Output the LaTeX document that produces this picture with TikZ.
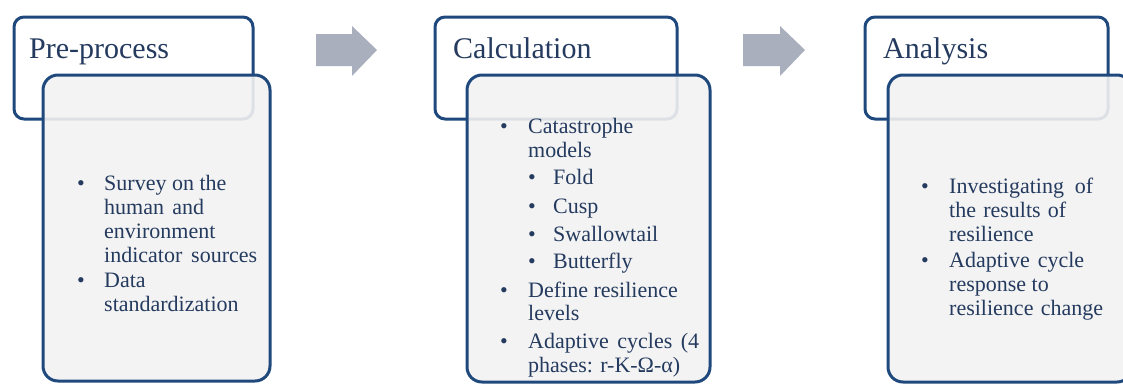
\documentclass[tikz,border=0pt]{standalone}
\usepackage{fontspec}
\setmainfont{Liberation Serif}
\definecolor{bordc}{RGB}{31,73,125}
\definecolor{txtc}{HTML}{243A5E}
\definecolor{arrc}{RGB}{169,175,189}
\definecolor{bodyfill}{HTML}{F2F2F2}
\tikzset{
  headbox/.style={draw=bordc, line width=3pt, rounded corners=10pt, fill=white},
  bodybox/.style={draw=bordc, line width=3pt, rounded corners=15pt, fill=bodyfill, fill opacity=0.9},
  ttl/.style={anchor=base west, inner sep=0pt, text=txtc, font=\fontsize{30}{34}\selectfont},
  txt/.style={anchor=base west, inner sep=0pt, text=txtc, font=\fontsize{22}{24}\selectfont},
  blockarrow/.style={fill=arrc, draw=none}
}
\begin{document}
\begin{tikzpicture}[x=1pt,y=-1pt]
\useasboundingbox (0,0) rectangle (1123,383);
\clip (0,0) rectangle (1123,383);
% ---------- panel 1 ----------
\draw[headbox] (14,17) rectangle (253,119);
\node[ttl] (t1) at (29,58) {Pre-process};
\draw[bodybox] (43,75) rectangle (270,381);
\node[txt] (b1a) at (77,190) {•};
\node[txt] (l1a) at (104,190) {Survey on the};
\node[txt] (l1b) at (104,214) {\makebox[100pt][s]{human and}};
\node[txt] (l1c) at (104,238) {environment};
\node[txt] (l1d) at (104,262) {\makebox[153pt][s]{indicator sources}};
\node[txt] (b1b) at (77,287) {•};
\node[txt] (l1e) at (104,287) {Data};
\node[txt] (l1f) at (104,311) {standardization};
% arrow 1
\fill[blockarrow] (316,34) -- (352,34) -- (352,26) -- (377,50) -- (352,76) -- (352,66) -- (316,66) -- cycle;
% ---------- panel 2 ----------
\draw[headbox] (435,17) rectangle (677,119);
\node[ttl] (t2) at (453,58) {Calculation};
\draw[bodybox] (467,75) rectangle (710,382);
\node[txt] (b2a) at (500,133) {•};
\node[txt] (l2a) at (528,133) {Catastrophe};
\node[txt] (l2b) at (528,157) {models};
\node[txt] (b2b) at (528,184) {•};
\node[txt] (l2c) at (553,184) {Fold};
\node[txt] (b2c) at (528,213) {•};
\node[txt] (l2d) at (553,213) {Cusp};
\node[txt] (b2d) at (528,241) {•};
\node[txt] (l2e) at (553,241) {Swallowtail};
\node[txt] (b2e) at (528,268) {•};
\node[txt] (l2f) at (553,268) {Butterfly};
\node[txt] (b2f) at (500,297) {•};
\node[txt] (l2g) at (528,297) {Define resilience};
\node[txt] (l2h) at (528,320) {levels};
\node[txt] (b2g) at (500,348) {•};
\node[txt] (l2i) at (528,348) {\makebox[171pt][s]{Adaptive cycles (4}};
\node[txt] (l2j) at (528,372) {phases: r-K-Ω-α)};
% arrow 2
\fill[blockarrow] (743,34) -- (780,34) -- (780,26) -- (805,50) -- (780,76) -- (780,66) -- (743,66) -- cycle;
% ---------- panel 3 ----------
\draw[headbox] (865,17) rectangle (1108,119);
\node[ttl] (t3) at (883,58) {Analysis};
\draw[bodybox] (888,75) rectangle (1132,382);
\node[txt] (b3a) at (921,193) {•};
\node[txt] (l3a) at (949,193) {\makebox[144pt][s]{Investigating of}};
\node[txt] (l3b) at (949,217) {\makebox[117pt][s]{the results of}};
\node[txt] (l3c) at (949,241) {resilience};
\node[txt] (b3b) at (921,267) {•};
\node[txt] (l3d) at (949,267) {\makebox[135pt][s]{Adaptive cycle}};
\node[txt] (l3e) at (949,291) {response to};
\node[txt] (l3f) at (949,315) {\makebox[154pt][s]{resilience change}};
\end{tikzpicture}
\end{document}
